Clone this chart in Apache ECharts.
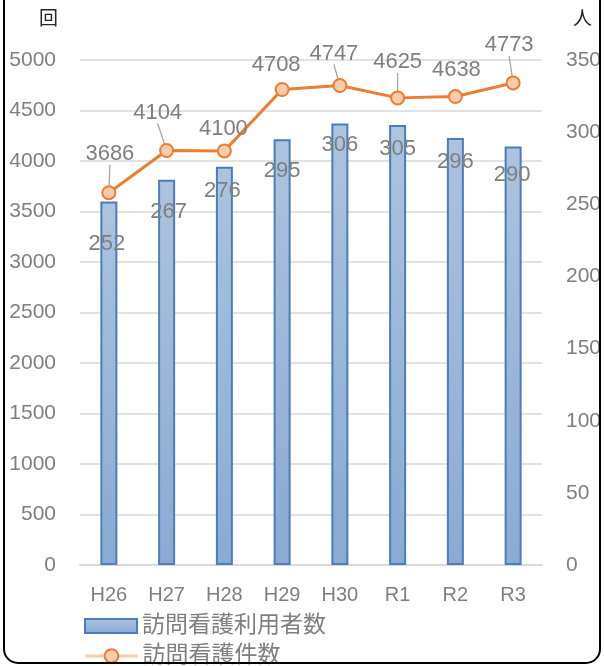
<!DOCTYPE html>
<html>
<head>
<meta charset="utf-8">
<script src="https://cdn.jsdelivr.net/npm/echarts@6/dist/echarts.min.js"></script>
<style>
  html, body { margin: 0; padding: 0; background: #fff; }
  #chart { width: 604px; height: 666px; }
</style>
</head>
<body>
<div id="chart"></div>
<script>
// 年度
const categories = ['H26', 'H27', 'H28', 'H29', 'H30', 'R1', 'R2', 'R3'];
// 訪問看護利用者数（人, 右軸）
const users = [252, 267, 276, 295, 306, 305, 296, 290];
// 訪問看護件数（回, 左軸）
const visits = [3686, 4104, 4100, 4708, 4747, 4625, 4638, 4773];

const leftTicks = { min: 0, max: 5000, interval: 500 };
const rightTicks = { min: 0, max: 350, interval: 50 };

// hand-placed label offsets [dx, dy] in px
const userLabelShift = [[-2, 32], [2, 21], [-2, 13], [0, 21], [0, 10], [0, 13], [0, 13], [-1, 17]];
const visitLabelShift = [[1, -39], [-9, -38], [-1, -22], [-6, -25], [-6, -32], [0, -36], [1, -27], [-4, -38]];
const visitLeader = [true, true, false, false, true, true, false, true];

const FONT = "'Liberation Sans', 'Noto Sans CJK JP', sans-serif";
const GREY = '#7f7f7f';

const chart = echarts.init(document.getElementById('chart'), null, { renderer: 'canvas' });

const barFill = new echarts.graphic.LinearGradient(0, 0, 0, 1, [
  { offset: 0, color: '#adc3df' },
  { offset: 1, color: '#8aaad3' }
]);

const legendText = { fontSize: 23, color: GREY, fontFamily: FONT, lineHeight: 24 };

chart.setOption({
  animation: false,
  backgroundColor: '#ffffff',
  textStyle: { fontFamily: FONT },
  grid: { left: 80, right: 62, top: 60, bottom: 101, containLabel: false, outerBoundsMode: 'none' },
  legend: [
    {
      left: 84, top: 614, padding: 0,
      itemWidth: 52, itemHeight: 14,
      textStyle: legendText,
      data: [{ name: '訪問看護利用者数', icon: 'rect' }]
    },
    {
      left: 84, top: 644, padding: 0,
      itemWidth: 52, itemHeight: 17,
      textStyle: legendText,
      data: [{ name: '訪問看護件数', lineStyle: { color: '#f8cbad', width: 3 } }]
    }
  ],
  xAxis: {
    type: 'category',
    data: categories,
    axisLine: { lineStyle: { color: '#d9d9d9', width: 2 } },
    axisTick: { show: false },
    axisLabel: { color: GREY, fontSize: 20, margin: 20 }
  },
  yAxis: [
    {
      type: 'value',
      min: leftTicks.min, max: leftTicks.max, interval: leftTicks.interval,
      axisLine: { show: false },
      axisTick: { show: false },
      axisLabel: { color: GREY, fontSize: 21, margin: 24, formatter: v => String(v) },
      splitLine: { lineStyle: { color: '#d9d9d9', width: 1.6 } }
    },
    {
      type: 'value',
      min: rightTicks.min, max: rightTicks.max, interval: rightTicks.interval,
      axisLine: { show: false },
      axisTick: { show: false },
      axisLabel: { color: GREY, fontSize: 21, margin: 24, formatter: v => String(v) },
      splitLine: { show: false }
    }
  ],
  graphic: [
    {
      type: 'rect',
      shape: { x: 4, y: -30, width: 596, height: 693, r: 14 },
      style: { fill: 'none', stroke: '#000', lineWidth: 2 },
      silent: true, z: 100
    },
    {
      type: 'text', left: 39, top: 8,
      style: { text: '回', fontSize: 19, fill: '#262626', fontFamily: "'Noto Sans CJK JP', sans-serif" }
    },
    {
      type: 'text', left: 573, top: 8,
      style: { text: '人', fontSize: 19, fill: '#262626', fontFamily: "'Noto Sans CJK JP', sans-serif" }
    }
  ],
  series: [
    {
      name: '訪問看護利用者数',
      type: 'bar',
      yAxisIndex: 1,
      barWidth: 17,
      data: users.map((v, i) => ({
        value: v,
        label: { offset: userLabelShift[i] }
      })),
      itemStyle: { color: barFill, borderColor: '#4a7ebb', borderWidth: 2 },
      label: {
        show: true,
        position: 'insideTop',
        distance: 0,
        color: GREY,
        fontSize: 22
      },
      z: 2
    },
    {
      name: '訪問看護件数',
      type: 'line',
      yAxisIndex: 0,
      data: visits.map((v, i) => ({
        value: v,
        labelLine: { show: visitLeader[i] }
      })),
      lineStyle: { color: '#ed7d31', width: 3 },
      itemStyle: { color: '#f8cbad', borderColor: '#ed7d31', borderWidth: 2 },
      symbol: 'circle',
      symbolSize: 13,
      showAllSymbol: true,
      label: {
        show: true,
        position: 'inside',
        color: GREY,
        fontSize: 22
      },
      labelLine: { show: true, lineStyle: { color: '#a6a6a6', width: 1.3 } },
      labelLayout: function (p) {
        const s = visitLabelShift[p.dataIndex];
        return { dx: s[0], dy: s[1] };
      },
      z: 3
    }
  ]
});
</script>
</body>
</html>
